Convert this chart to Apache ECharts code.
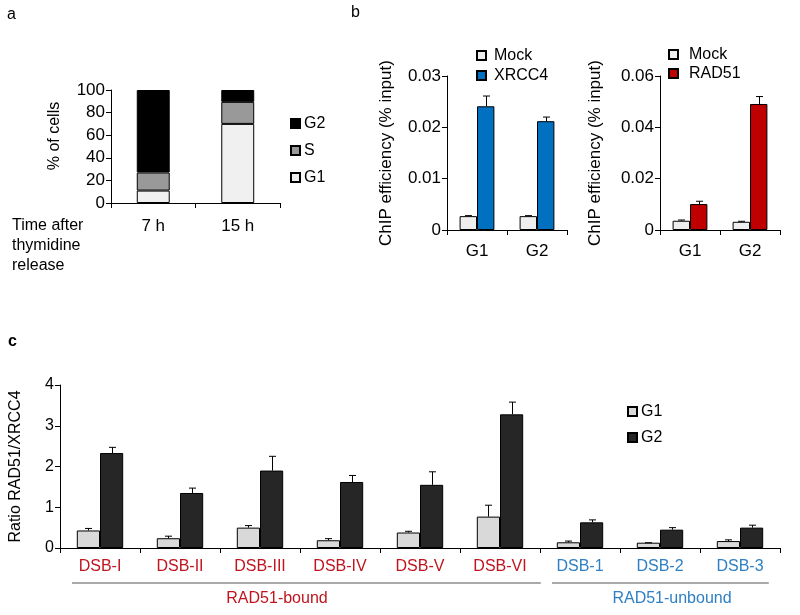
<!DOCTYPE html>
<html><head><meta charset="utf-8">
<script src="https://cdn.jsdelivr.net/npm/echarts@6/dist/echarts.min.js"></script>
<style>html,body{margin:0;padding:0;background:#fff}#c{width:800px;height:615px}</style>
</head><body><div id="c"></div>
<script>
// Panel a
const aCats = ['7 h', '15 h'];
const aG1 = [11, 70];
const aS = [16, 19.5];
const aG2 = [73, 10.5];
// Panel b (left)
const bCats = ['G1', 'G2'];
const bMockL = [0.0027, 0.0027];
const bMockLErr = [0.0001, 0.0001];
const bXrcc4 = [0.0241, 0.0212];
const bXrcc4Err = [0.002, 0.0008];
// Panel b (right)
const bMockR = [0.0036, 0.0032];
const bMockRErr = [0.0003, 0.0002];
const bRad51 = [0.0101, 0.0491];
const bRad51Err = [0.0011, 0.0029];
// Panel c
const cCats = ['DSB-I', 'DSB-II', 'DSB-III', 'DSB-IV', 'DSB-V', 'DSB-VI', 'DSB-1', 'DSB-2', 'DSB-3'];
const cG1 = [0.43, 0.24, 0.50, 0.19, 0.38, 0.77, 0.14, 0.13, 0.17];
const cG1Err = [0.05, 0.05, 0.05, 0.04, 0.03, 0.28, 0.03, 0.0, 0.03];
const cG2 = [2.33, 1.35, 1.90, 1.62, 1.55, 3.28, 0.63, 0.45, 0.50];
const cG2Err = [0.14, 0.12, 0.35, 0.16, 0.32, 0.30, 0.06, 0.05, 0.06];

const FONT = 'Liberation Sans, Arial, sans-serif';
const RED = '#c0141e', BLUE = '#2e7fc4';

const chart = echarts.init(document.getElementById('c'), null, {renderer: 'canvas'});

function errSeries(name, xi, yi, vals, errs, frac) {
  return {
    type: 'custom', name: name, xAxisIndex: xi, yAxisIndex: yi, z: 5,
    data: vals.map((v, i) => [i, v, errs[i]]),
    renderItem: function (params, api) {
      const i = api.value(0), v = api.value(1), e = api.value(2);
      const p = api.coord([i, v]);
      const t = api.coord([i, v + e]);
      const band = api.size([1, 0])[0];
      const cx = Math.round(p[0] + frac * band) + 0.5;
      return {
        type: 'group', children: [
          {type: 'line', shape: {x1: cx, y1: p[1], x2: cx, y2: t[1]}, style: {stroke: '#000', lineWidth: 1}},
          {type: 'line', shape: {x1: cx - 3.5, y1: t[1], x2: cx + 3.5, y2: t[1]}, style: {stroke: '#000', lineWidth: 1}}
        ]
      };
    }
  };
}

function catAxis(gi, data, fs, margin, colors) {
  return {
    type: 'category', gridIndex: gi, data: data,
    axisLine: {lineStyle: {color: '#000', width: 1}},
    axisTick: {show: true, length: 5, lineStyle: {color: '#000'}},
    axisLabel: {
      fontFamily: FONT, fontSize: fs, margin: margin,
      color: colors ? function (v, idx) { return colors[idx]; } : '#000'
    }
  };
}
function valAxis(gi, max, interval, fs, name, gap) {
  return {
    type: 'value', gridIndex: gi, min: 0, max: max, interval: interval,
    axisLine: {show: true, lineStyle: {color: '#000', width: 1}},
    axisTick: {show: true, length: 5, lineStyle: {color: '#000'}},
    axisLabel: {fontFamily: FONT, fontSize: fs, color: '#000', margin: 6},
    splitLine: {show: false},
    name: name, nameLocation: 'middle', nameRotate: 90, nameGap: gap,
    nameTextStyle: {fontFamily: FONT, fontSize: fs, color: '#000'}
  };
}

const cColors = cCats.map((c, i) => i < 6 ? RED : BLUE);

const option = {
  animation: false,
  backgroundColor: '#fff',
  grid: [
    {left: 111, top: 90, width: 169, height: 113},
    {left: 447, top: 76, width: 120, height: 154},
    {left: 660, top: 76, width: 120, height: 154},
    {left: 60, top: 385, width: 720, height: 163}
  ],
  xAxis: [
    catAxis(0, aCats, 17, 15),
    catAxis(1, bCats, 17, 13),
    catAxis(2, bCats, 17, 13),
    catAxis(3, cCats, 16, 11, cColors)
  ],
  yAxis: [
    valAxis(0, 100, 20, 17, '', 0),
    valAxis(1, 0.03, 0.01, 17, 'ChIP efficiency (% input)', 52),
    valAxis(2, 0.06, 0.02, 17, 'ChIP efficiency (% input)', 56),
    valAxis(3, 4, 1, 16, 'Ratio RAD51/XRCC4', 36)
  ],
  legend: [
    {data: ['G2', 'S', 'G1'], orient: 'vertical', left: 290, top: 115, padding: 0, itemWidth: 9, itemHeight: 9, itemGap: 10,
     icon: 'rect', textStyle: {fontFamily: FONT, fontSize: 16, color: '#000', lineHeight: 17, padding: [0, 0, 0, -1]}},
    {data: ['Mock', 'XRCC4'], orient: 'vertical', left: 476, top: 47, padding: 0, itemWidth: 9, itemHeight: 9, itemGap: 3,
     icon: 'rect', textStyle: {fontFamily: FONT, fontSize: 16, color: '#000', lineHeight: 17, padding: [0, 0, 0, 3]}},
    {data: ['Mock ', 'RAD51'], orient: 'vertical', left: 668, top: 46, padding: 0, itemWidth: 9, itemHeight: 9, itemGap: 2,
     icon: 'rect', textStyle: {fontFamily: FONT, fontSize: 16, color: '#000', lineHeight: 17, padding: [0, 0, 0, 6]}},
    {data: ['G1 ', 'G2 '], orient: 'vertical', left: 627, top: 403, padding: 0, itemWidth: 9, itemHeight: 9, itemGap: 9,
     icon: 'rect', textStyle: {fontFamily: FONT, fontSize: 16, color: '#000', lineHeight: 17, padding: [0, 0, 0, -1]}}
  ],
  series: [
    {type: 'bar', name: 'G1', xAxisIndex: 0, yAxisIndex: 0, stack: 'a', data: aG1, barWidth: '39%',
     itemStyle: {color: '#f0f0f0', borderColor: '#000', borderWidth: 1}},
    {type: 'bar', name: 'S', xAxisIndex: 0, yAxisIndex: 0, stack: 'a', data: aS, barWidth: '39%',
     itemStyle: {color: '#999999', borderColor: '#000', borderWidth: 1}},
    {type: 'bar', name: 'G2', xAxisIndex: 0, yAxisIndex: 0, stack: 'a', data: aG2, barWidth: '39%',
     itemStyle: {color: '#000000', borderColor: '#000', borderWidth: 1}},

    {type: 'bar', name: 'Mock', xAxisIndex: 1, yAxisIndex: 1, data: bMockL, barWidth: '29%', barGap: '0%',
     itemStyle: {color: '#eeeeee', borderColor: '#000', borderWidth: 1}},
    {type: 'bar', name: 'XRCC4', xAxisIndex: 1, yAxisIndex: 1, data: bXrcc4, barWidth: '29%', barGap: '0%',
     itemStyle: {color: '#0070c0', borderColor: '#000', borderWidth: 1}},
    errSeries('eMockL', 1, 1, bMockL, bMockLErr, -0.145),
    errSeries('eXrcc4', 1, 1, bXrcc4, bXrcc4Err, 0.145),

    {type: 'bar', name: 'Mock ', xAxisIndex: 2, yAxisIndex: 2, data: bMockR, barWidth: '29%', barGap: '0%',
     itemStyle: {color: '#eeeeee', borderColor: '#000', borderWidth: 1}},
    {type: 'bar', name: 'RAD51', xAxisIndex: 2, yAxisIndex: 2, data: bRad51, barWidth: '29%', barGap: '0%',
     itemStyle: {color: '#c00000', borderColor: '#000', borderWidth: 1}},
    errSeries('eMockR', 2, 2, bMockR, bMockRErr, -0.145),
    errSeries('eRad51', 2, 2, bRad51, bRad51Err, 0.145),

    {type: 'bar', name: 'G1 ', xAxisIndex: 3, yAxisIndex: 3, data: cG1, barWidth: '29%', barGap: '0%',
     itemStyle: {color: '#d9d9d9', borderColor: '#000', borderWidth: 1}},
    {type: 'bar', name: 'G2 ', xAxisIndex: 3, yAxisIndex: 3, data: cG2, barWidth: '29%', barGap: '0%',
     itemStyle: {color: '#262626', borderColor: '#000', borderWidth: 1}},
    errSeries('eG1c', 3, 3, cG1, cG1Err, -0.145),
    errSeries('eG2c', 3, 3, cG2, cG2Err, 0.145)
  ]
};
chart.setOption(option);

// annotations positioned from the axes
const px = (i) => chart.convertToPixel({xAxisIndex: 3}, i);
const band = px(1) - px(0);
const lineY = 583;
const g = [
  {type: 'text', left: 7, top: 7, style: {text: 'a', font: '16px ' + FONT, fill: '#000'}},
  {type: 'text', left: 351, top: 5, style: {text: 'b', font: '16px ' + FONT, fill: '#000'}},
  {type: 'text', left: 8, top: 334, style: {text: 'c', font: 'bold 16px ' + FONT, fill: '#000'}},
  {type: 'text', x: 55, y: 136, rotation: Math.PI / 2,
   style: {text: '% of cells', font: '16px ' + FONT, fill: '#000', align: 'center', verticalAlign: 'middle'}},
  {type: 'text', left: 12, top: 216,
   style: {text: 'Time after\nthymidine\nrelease', font: '16px ' + FONT, fill: '#000', lineHeight: 20}},
  {type: 'line', shape: {x1: px(0) - 0.35 * band, y1: lineY, x2: px(5) + 0.51 * band, y2: lineY},
   style: {stroke: '#555', lineWidth: 1.2}},
  {type: 'line', shape: {x1: px(6) - 0.35 * band, y1: lineY, x2: px(8) + 0.36 * band, y2: lineY},
   style: {stroke: '#555', lineWidth: 1.2}},
  {type: 'text', x: 277, y: 599,
   style: {text: 'RAD51-bound', font: '16px ' + FONT, fill: RED, align: 'center', verticalAlign: 'middle'}},
  {type: 'text', x: 672, y: 599,
   style: {text: 'RAD51-unbound', font: '16px ' + FONT, fill: BLUE, align: 'center', verticalAlign: 'middle'}}
];
chart.setOption({graphic: g});
</script></body></html>
